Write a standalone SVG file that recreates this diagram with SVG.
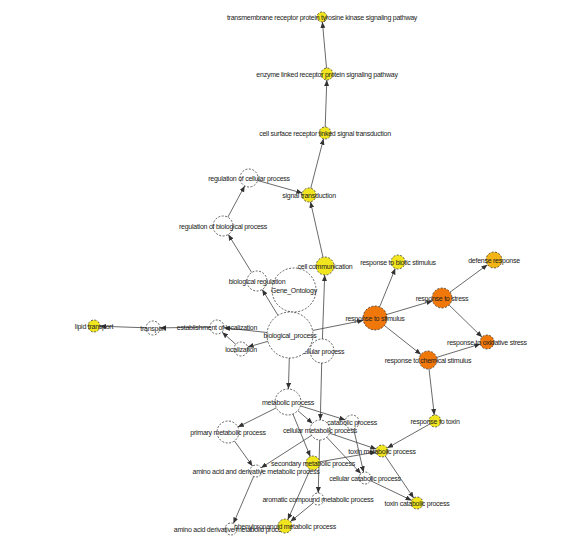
<svg xmlns="http://www.w3.org/2000/svg" width="572" height="552" viewBox="0 0 572 552">
<style>
.e{stroke:#444;stroke-width:0.8;fill:none;marker-end:url(#a)}
.n{stroke:#222;stroke-width:0.7;stroke-dasharray:2 1.5;fill:#fff}
.y{fill:#f1e51f}
.o{fill:#f0780a}
.d{fill:#f3b418}
text{font-family:"Liberation Sans",Arial,sans-serif;font-size:7px;letter-spacing:-0.25px;fill:#222;text-anchor:middle}
</style>
<defs>
<marker id="a" markerUnits="userSpaceOnUse" markerWidth="6" markerHeight="5" refX="6" refY="2.5" orient="auto"><path d="M0,0 L6,2.5 L0,5 z" fill="#333"/></marker>
</defs>
<rect width="572" height="552" fill="#fff"/>
<g id="edges">
<line class="e" x1="310.75" y1="188.22" x2="323.5" y2="138.81"/>
<line class="e" x1="325.2" y1="127" x2="326.8" y2="80"/>
<line class="e" x1="326.5" y1="68" x2="322.4" y2="22"/>
<line class="e" x1="257.7" y1="180.5" x2="302.3" y2="193.1"/>
<line class="e" x1="227.8" y1="217.2" x2="244.7" y2="185.9"/>
<line class="e" x1="251.7" y1="272.5" x2="228.3" y2="234.5"/>
<line class="e" x1="278" y1="315.4" x2="262.2" y2="289.5"/>
<line class="e" x1="323" y1="257.2" x2="310.5" y2="201.8"/>
<line class="e" x1="322.4" y1="339" x2="324.7" y2="275"/>
<line class="e" x1="312.6" y1="330.5" x2="363.2" y2="320.4"/>
<line class="e" x1="379.6" y1="306.9" x2="395.3" y2="268.5"/>
<line class="e" x1="386.5" y1="314.6" x2="432.4" y2="300.9"/>
<line class="e" x1="384.4" y1="325.5" x2="420.9" y2="354.4"/>
<line class="e" x1="450.1" y1="292.1" x2="487.5" y2="264.7"/>
<line class="e" x1="449.1" y1="305" x2="482" y2="337.1"/>
<line class="e" x1="436.6" y1="357.4" x2="480.3" y2="344"/>
<line class="e" x1="429" y1="368.9" x2="434.3" y2="415"/>
<line class="e" x1="429.8" y1="424" x2="387.2" y2="448"/>
<line class="e" x1="385.3" y1="456" x2="413.7" y2="498"/>
<line class="e" x1="370.4" y1="480.6" x2="411.6" y2="500.4"/>
<line class="e" x1="353.6" y1="428.8" x2="363.6" y2="472.2"/>
<line class="e" x1="300.4" y1="405.9" x2="345.3" y2="419.9"/>
<line class="e" x1="297.8" y1="410.6" x2="312.5" y2="423.4"/>
<line class="e" x1="276.4" y1="407.8" x2="237.8" y2="427.1"/>
<line class="e" x1="292.9" y1="414" x2="310.3" y2="456.5"/>
<line class="e" x1="289.3" y1="358" x2="288.4" y2="389"/>
<line class="e" x1="321.7" y1="363" x2="320.3" y2="420"/>
<line class="e" x1="329.5" y1="433.2" x2="376.3" y2="449.1"/>
<line class="e" x1="326.8" y1="437.3" x2="360.9" y2="473.6"/>
<line class="e" x1="311.6" y1="435.4" x2="261.1" y2="467.8"/>
<line class="e" x1="319.7" y1="440" x2="318.2" y2="493"/>
<line class="e" x1="234.4" y1="440.9" x2="252.5" y2="466.1"/>
<line class="e" x1="319.9" y1="461.8" x2="376.1" y2="452"/>
<line class="e" x1="310.2" y1="469.4" x2="287.8" y2="519.6"/>
<line class="e" x1="313.4" y1="502.8" x2="290.4" y2="521.6"/>
<line class="e" x1="253.6" y1="476.5" x2="233.4" y2="523.5"/>
<line class="e" x1="267.1" y1="332.5" x2="224" y2="327.8"/>
<line class="e" x1="267.9" y1="341.3" x2="247.7" y2="347.1"/>
<line class="e" x1="235.8" y1="344.3" x2="222.2" y2="332.3"/>
<line class="e" x1="210" y1="327.1" x2="160" y2="327.9"/>
<line class="e" x1="146" y1="327.8" x2="100" y2="326.2"/>
</g>
<g id="gene_ontology"><circle class="n" cx="294" cy="290" r="22"/><text x="294" y="292.5">Gene_Ontology</text></g>
<g id="cellular_process"><circle class="n" cx="322" cy="351" r="12"/><text x="322" y="353.5">cellular process</text></g>
<g id="biological_process"><circle class="n" cx="290" cy="335" r="23"/><text x="290" y="337.5">biological_process</text></g>
<g id="biological_regulation"><circle class="n" cx="257" cy="281" r="10"/><text x="257" y="283.5">biological regulation</text></g>
<g id="regulation_of_biological_process"><circle class="n" cx="223" cy="226" r="10"/><text x="223" y="228.5">regulation of biological process</text></g>
<g id="regulation_of_cellular_process"><circle class="n" cx="249" cy="178" r="9"/><text x="249" y="180.5">regulation of cellular process</text></g>
<g id="signal_transduction"><circle class="n y" cx="309" cy="195" r="7"/><text x="309" y="197.5">signal transduction</text></g>
<g id="cell_surface_receptor"><circle class="n y" cx="325" cy="133" r="6"/><text x="325" y="135.5">cell surface receptor linked signal transduction</text></g>
<g id="enzyme_linked"><circle class="n y" cx="327" cy="74" r="6"/><text x="327" y="76.5">enzyme linked receptor protein signaling pathway</text></g>
<g id="transmembrane"><circle class="n y" cx="322" cy="17" r="5"/><text x="322" y="19.5">transmembrane receptor protein tyrosine kinase signaling pathway</text></g>
<g id="cell_communication"><circle class="n y" cx="325" cy="266" r="9"/><text x="325" y="268.5">cell communication</text></g>
<g id="establishment_of_localization"><circle class="n" cx="217" cy="327" r="7"/><text x="217" y="329.5">establishment of localization</text></g>
<g id="localization"><circle class="n" cx="241" cy="349" r="7"/><text x="241" y="351.5">localization</text></g>
<g id="transport"><circle class="n" cx="153" cy="328" r="7"/><text x="153" y="330.5">transport</text></g>
<g id="lipid_transport"><circle class="n y" cx="94" cy="326" r="6"/><text x="94" y="328.5">lipid transport</text></g>
<g id="response_to_stimulus"><circle class="n o" cx="375" cy="318" r="12"/><text x="375" y="320.5">response to stimulus</text></g>
<g id="response_to_biotic_stimulus"><circle class="n y" cx="398" cy="262" r="7"/><text x="398" y="264.5">response to biotic stimulus</text></g>
<g id="response_to_stress"><circle class="n o" cx="442" cy="298" r="10"/><text x="442" y="300.5">response to stress</text></g>
<g id="defense_response"><circle class="n d" cx="494" cy="260" r="8"/><text x="494" y="262.5">defense response</text></g>
<g id="response_to_oxidative_stress"><circle class="n o" cx="487" cy="342" r="7"/><text x="487" y="344.5">response to oxidative stress</text></g>
<g id="response_to_chemical_stimulus"><circle class="n o" cx="428" cy="360" r="9"/><text x="428" y="362.5">response to chemical stimulus</text></g>
<g id="response_to_toxin"><circle class="n y" cx="435" cy="421" r="6"/><text x="435" y="423.5">response to toxin</text></g>
<g id="metabolic_process"><circle class="n" cx="288" cy="402" r="13"/><text x="288" y="404.5">metabolic process</text></g>
<g id="catabolic_process"><circle class="n" cx="352" cy="422" r="7"/><text x="352" y="424.5">catabolic process</text></g>
<g id="cellular_metabolic_process"><circle class="n" cx="320" cy="430" r="10"/><text x="320" y="432.5">cellular metabolic process</text></g>
<g id="primary_metabolic_process"><circle class="n" cx="228" cy="432" r="11"/><text x="228" y="434.5">primary metabolic process</text></g>
<g id="toxin_metabolic_process"><circle class="n y" cx="382" cy="451" r="6"/><text x="382" y="453.5">toxin metabolic process</text></g>
<g id="secondary_metabolic_process"><circle class="n y" cx="313" cy="463" r="7"/><text x="313" y="465.5">secondary metabolic process</text></g>
<g id="amino_acid_and_derivative"><circle class="n" cx="256" cy="471" r="6"/><text x="256" y="473.5">amino acid and derivative metabolic process</text></g>
<g id="cellular_catabolic_process"><circle class="n" cx="365" cy="478" r="6"/><text x="365" y="480.5">cellular catabolic process</text></g>
<g id="aromatic_compound"><circle class="n" cx="318" cy="499" r="6"/><text x="318" y="501.5">aromatic compound metabolic process</text></g>
<g id="toxin_catabolic_process"><circle class="n y" cx="417" cy="503" r="6"/><text x="417" y="505.5">toxin catabolic process</text></g>
<g id="amino_acid_derivative"><circle class="n" cx="231" cy="529" r="6"/><text x="231" y="531.5">amino acid derivative metabolic process</text></g>
<g id="phenylpropanoid"><circle class="n y" cx="285" cy="526" r="7"/><text x="285" y="528.5">phenylpropanoid metabolic process</text></g>
</svg>
